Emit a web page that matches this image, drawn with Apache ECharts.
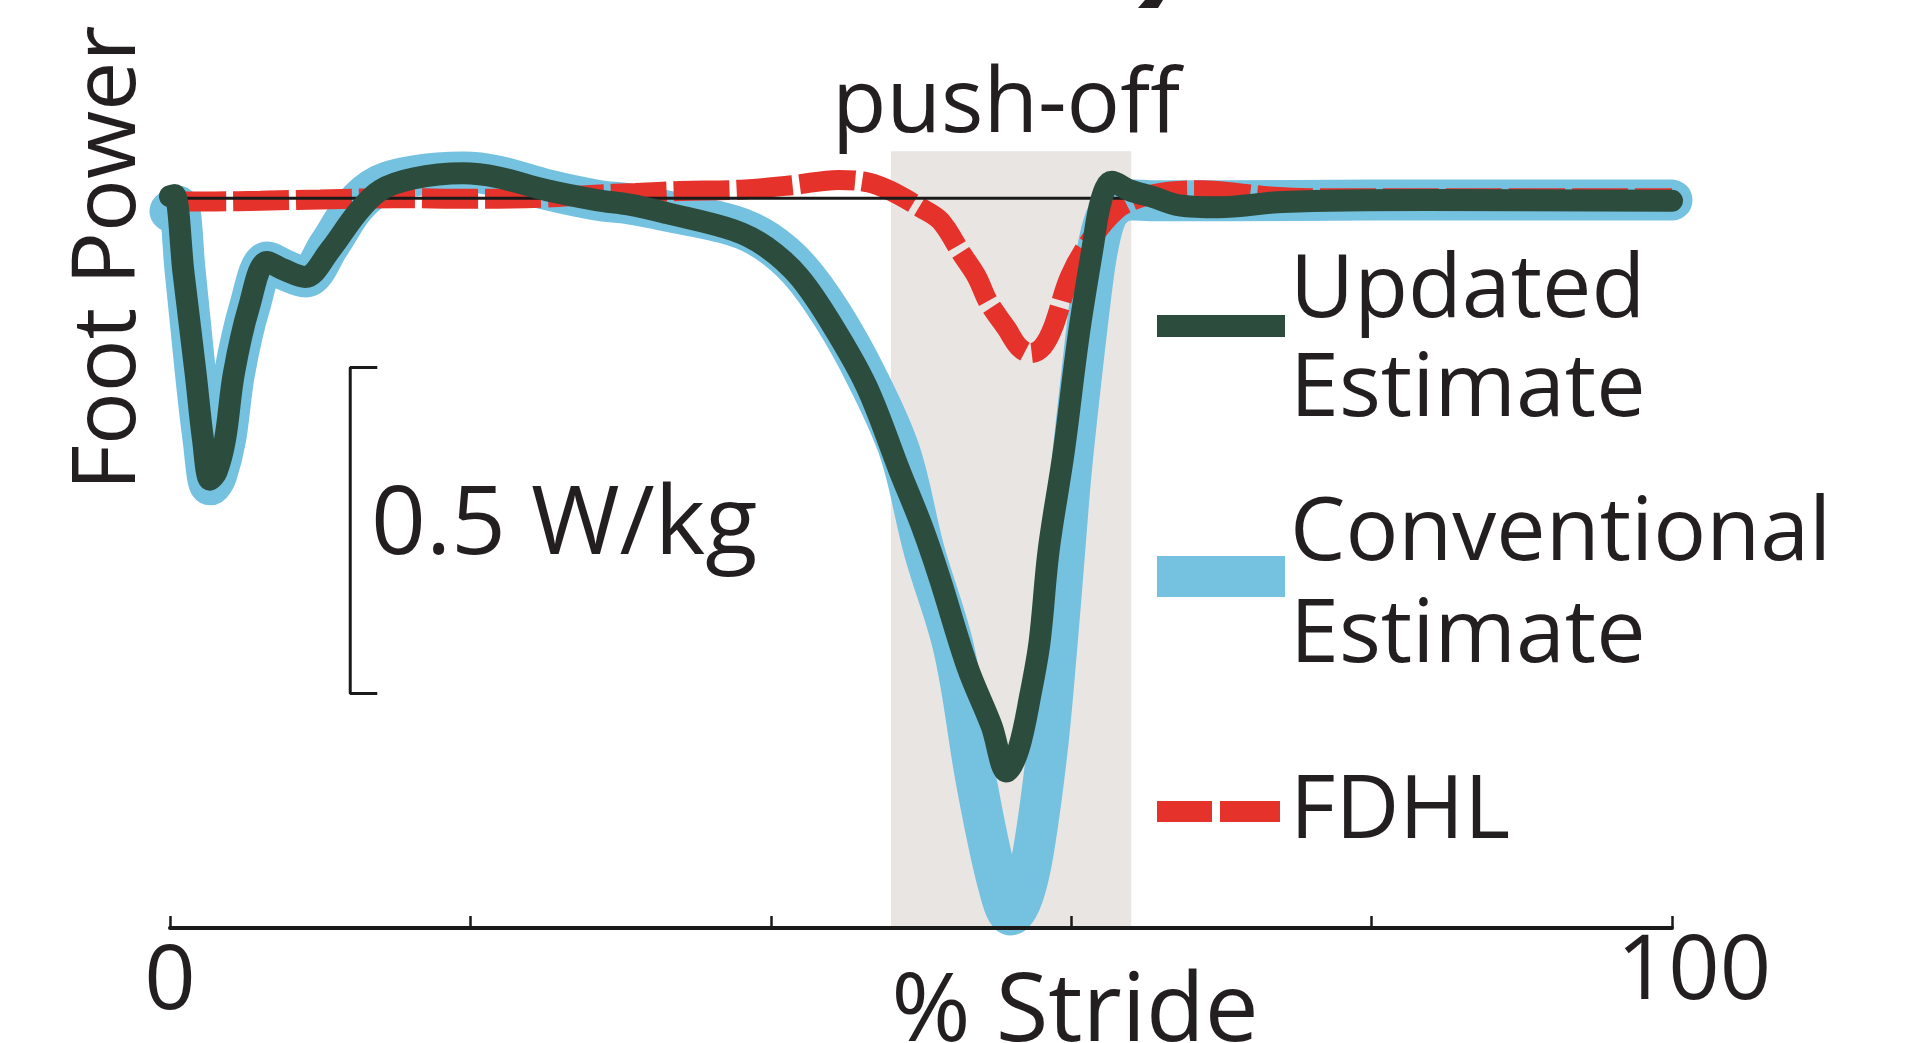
<!DOCTYPE html>
<html>
<head>
<meta charset="utf-8">
<title>Foot Power</title>
<script src="https://cdn.jsdelivr.net/npm/echarts@6/dist/echarts.min.js"></script>
<style>
  html, body { margin: 0; padding: 0; background: #ffffff; }
  #chart { width: 1909px; height: 1043px; }
</style>
</head>
<body>
<div id="chart"></div>
<script>
// values: x = % stride, y = foot power (W/kg)
var updatedStride = [0, 0.3, 0.9, 1.7, 2.2, 2.66, 3.1, 3.66, 4.26, 5.26, 6.46, 7.6, 9.0, 10.65, 12.45, 14.0, 16.2, 19.5, 21.8, 25.1, 28.4, 30.6, 33.1, 37.5, 39.7, 41.9, 44.1, 46.4, 48.6, 50.0, 51.2, 53.1, 54.7, 55.7, 56.5, 57.3, 57.9, 58.5, 59.5, 60.5, 61.4, 62.0, 62.7, 63.9, 65.4, 67.2, 69.8, 74.1, 83.6, 100];
var updatedPower = [0.003, 0.005, -0.115, -0.268, -0.371, -0.432, -0.42, -0.371, -0.268, -0.167, -0.098, -0.11, -0.121, -0.08, -0.023, 0.012, 0.03, 0.038, 0.032, 0.012, -0.003, -0.01, -0.023, -0.049, -0.075, -0.121, -0.195, -0.29, -0.42, -0.5, -0.58, -0.72, -0.81, -0.88, -0.845, -0.76, -0.68, -0.54, -0.39, -0.21, -0.08, -0.003, 0.025, 0.012, 0.002, -0.011, -0.014, -0.006, -0.003, -0.004];

var conventionalStride = [0, 0.5, 1.0, 1.7, 2.2, 2.7, 3.1, 3.7, 4.3, 5.3, 6.5, 7.6, 9.0, 10.6, 12.3, 14.0, 16.2, 19.5, 21.8, 25.1, 28.4, 30.6, 33.1, 37.5, 39.7, 41.9, 44.1, 46.4, 48.6, 50.2, 52.2, 53.7, 55.1, 56.0, 56.8, 57.5, 58.4, 59.0, 59.5, 60.0, 60.6, 61.2, 61.7, 62.3, 63.0, 64.0, 66.0, 70.0, 80.0, 100];
var conventionalPower = [-0.02, -0.012, -0.11, -0.27, -0.37, -0.44, -0.425, -0.37, -0.268, -0.167, -0.098, -0.11, -0.121, -0.072, -0.012, 0.02, 0.034, 0.04, 0.034, 0.013, -0.003, -0.009, -0.02, -0.042, -0.066, -0.11, -0.18, -0.275, -0.39, -0.54, -0.693, -0.897, -1.05, -1.1, -1.07, -1.0, -0.847, -0.7, -0.56, -0.42, -0.29, -0.17, -0.085, -0.03, -0.01, -0.003, -0.004, -0.004, -0.003, -0.003];

var fdhlStride = [0, 3, 6, 10, 15, 20, 25, 28, 31, 34, 38, 41.5, 44.5, 46.5, 47.9, 50.0, 51.3, 52.7, 53.7, 54.5, 55.7, 56.5, 57.3, 58.1, 58.8, 59.9, 61.3, 63.0, 64.5, 66.5, 68.8, 71.0, 73.5, 76, 85, 100];
var fdhlPower = [-0.005, -0.005, -0.004, -0.002, 0, -0.001, 0.001, 0.005, 0.008, 0.011, 0.013, 0.02, 0.028, 0.024, 0.012, -0.015, -0.035, -0.085, -0.12, -0.16, -0.2, -0.228, -0.238, -0.228, -0.198, -0.121, -0.064, -0.018, 0.0, 0.01, 0.012, 0.008, 0.002, 0, 0, 0];

var zeroLine = [[0, 0], [100, 0]];
var pushOff = [48, 64];            // shaded push-off phase, % stride
var scaleBarStride = [12, 13.8];   // scale bar position and tick length
var scaleBarTop = -0.26;
var scaleBarSize = 0.5;            // W/kg
var strideTicks = [0, 100];        // labelled ticks

var ink = '#231f20';
var font = '"Open Sans", sans-serif';

function pairs(xs, ys) {
  return xs.map(function (x, i) { return [x, ys[i]]; });
}

var chart = echarts.init(document.getElementById('chart'));

var option = {
  backgroundColor: '#ffffff',
  animation: false,
  grid: { left: 170, right: 237, top: 146, bottom: 115, containLabel: false, outerBoundsMode: 'none' },
  xAxis: {
    type: 'value',
    min: 0,
    max: 100,
    interval: 20,
    z: 10,
    splitLine: { show: false },
    axisLine: { onZero: false, lineStyle: { color: '#1a1a1a', width: 4 } },
    axisTick: { inside: true, length: 12, lineStyle: { color: '#1a1a1a', width: 2.5 } },
    axisLabel: {
      margin: 0,
      color: ink,
      fontFamily: font,
      fontSize: 90,
      formatter: function (v) {
        if (strideTicks.indexOf(v) < 0) return '';
        return v === 0 ? '{a|' + v + '}' : '{b|' + v + '}';
      },
      rich: {
        a: { fontFamily: font, fontSize: 90, color: ink, padding: [10, 0, 0, 0] },
        b: { fontFamily: font, fontSize: 90, color: ink, padding: [0, 0, 0, 44] }
      }
    },
    name: '% Stride',
    nameLocation: 'middle',
    nameGap: 38,
    nameMoveOverlap: false,
    nameTextStyle: { color: ink, fontFamily: font, fontSize: 96, padding: [0, 0, 0, 308] }
  },
  yAxis: {
    type: 'value',
    show: false,
    min: -1.12,
    max: 0.08
  },
  series: [
    {
      name: 'Conventional Estimate',
      type: 'line',
      z: 2,
      clip: false,
      smooth: 0.35,
      showSymbol: false,
      data: pairs(conventionalStride, conventionalPower),
      lineStyle: { color: '#75c1e0', width: 41, cap: 'round', join: 'round' },
      markArea: {
        silent: true,
        itemStyle: { color: '#e9e5e3' },
        data: [[{ xAxis: pushOff[0], yAxis: 0.072 }, { xAxis: pushOff[1], yAxis: -1.12 }]]
      }
    },
    {
      name: 'FDHL',
      type: 'line',
      z: 3,
      clip: false,
      smooth: 0.35,
      showSymbol: false,
      data: pairs(fdhlStride, fdhlPower),
      lineStyle: { color: '#e5322a', width: 20, type: [56, 7], cap: 'butt' }
    },
    {
      name: 'zero',
      type: 'line',
      z: 4,
      silent: true,
      showSymbol: false,
      data: zeroLine,
      lineStyle: { color: '#1a1a1a', width: 3 }
    },
    {
      name: 'scale bar',
      type: 'line',
      z: 4,
      silent: true,
      showSymbol: false,
      data: [
        [scaleBarStride[1], scaleBarTop],
        [scaleBarStride[0], scaleBarTop],
        [scaleBarStride[0], scaleBarTop - scaleBarSize],
        [scaleBarStride[1], scaleBarTop - scaleBarSize]
      ],
      lineStyle: { color: '#1a1a1a', width: 3 }
    },
    {
      name: 'Updated Estimate',
      type: 'line',
      z: 5,
      clip: false,
      smooth: 0.35,
      showSymbol: false,
      data: pairs(updatedStride, updatedPower),
      lineStyle: { color: '#2c4d3e', width: 22, cap: 'round', join: 'round' }
    }
  ],
  graphic: [
    // bit of a cut-off title glyph at the top edge
    { type: 'polygon', shape: { points: [[1145, 0], [1163, 0], [1158, 8], [1138, 8]] }, style: { fill: ink } },
    {
      type: 'text', x: 110, y: 258, rotation: Math.PI / 2,
      style: { text: 'Foot Power', font: '88px ' + font, fill: ink, align: 'center', verticalAlign: 'middle', textAlign: 'center', textVerticalAlign: 'middle' }
    },
    {
      type: 'text', x: 1006, y: 107,
      style: { text: 'push-off', font: '89px ' + font, fill: ink, align: 'center', verticalAlign: 'middle', textAlign: 'center', textVerticalAlign: 'middle' }
    },
    {
      type: 'text', x: 371, y: 527,
      style: { text: '0.5 W/kg', font: '96px ' + font, fill: ink, align: 'left', verticalAlign: 'middle', textAlign: 'left', textVerticalAlign: 'middle' }
    },
    // legend
    { type: 'rect', shape: { x: 1157, y: 315, width: 128, height: 22 }, style: { fill: '#2c4d3e' } },
    { type: 'rect', shape: { x: 1157, y: 556, width: 128, height: 41 }, style: { fill: '#75c1e0' } },
    { type: 'rect', shape: { x: 1157, y: 801, width: 55, height: 21 }, style: { fill: '#e5322a' } },
    { type: 'rect', shape: { x: 1220, y: 801, width: 60, height: 21 }, style: { fill: '#e5322a' } },
    {
      type: 'text', x: 1290, y: 292,
      style: { text: 'Updated', font: '88px ' + font, fill: ink, align: 'left', verticalAlign: 'middle', textAlign: 'left', textVerticalAlign: 'middle' }
    },
    {
      type: 'text', x: 1290, y: 391,
      style: { text: 'Estimate', font: '88px ' + font, fill: ink, align: 'left', verticalAlign: 'middle', textAlign: 'left', textVerticalAlign: 'middle' }
    },
    {
      type: 'text', x: 1290, y: 535,
      style: { text: 'Conventional', font: '88px ' + font, fill: ink, align: 'left', verticalAlign: 'middle', textAlign: 'left', textVerticalAlign: 'middle' }
    },
    {
      type: 'text', x: 1290, y: 637,
      style: { text: 'Estimate', font: '88px ' + font, fill: ink, align: 'left', verticalAlign: 'middle', textAlign: 'left', textVerticalAlign: 'middle' }
    },
    {
      type: 'text', x: 1290, y: 813,
      style: { text: 'FDHL', font: '88px ' + font, fill: ink, align: 'left', verticalAlign: 'middle', textAlign: 'left', textVerticalAlign: 'middle' }
    }
  ]
};

chart.setOption(option);
window.addEventListener('resize', function () {
  chart.resize();
});
</script>
</body>
</html>
